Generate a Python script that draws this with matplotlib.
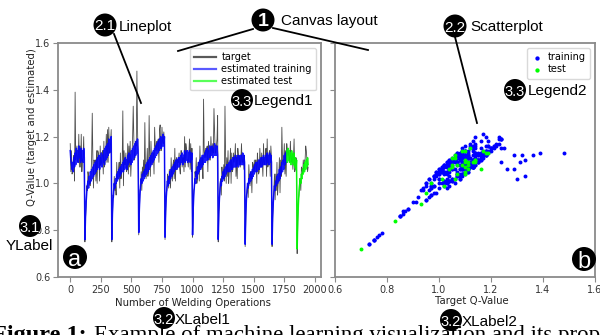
import numpy as np
import matplotlib.pyplot as plt
from matplotlib.patches import Circle
from matplotlib.lines import Line2D

# welding operation index (every 5th operation)
ops = np.arange(0, 1950, 5)

target = [
    1.17, 1.05, 1.14, 1.04, 1.05, 1.10, 1.12, 1.01, 1.39, 1.10, 1.12, 1.16, 1.09, 1.09, 1.21, 1.07, 1.16, 1.07, 1.21, 1.05,
    1.10, 1.11, 1.20, 1.05, 0.75, 0.85, 0.90, 0.99, 0.97, 1.05, 1.03, 0.99, 1.01, 0.99, 1.04, 1.11, 1.30, 1.11, 0.98, 1.10,
    1.09, 1.10, 1.01, 1.14, 1.00, 1.14, 1.13, 1.10, 1.01, 1.16, 1.08, 1.09, 1.13, 1.14, 1.04, 1.18, 1.07, 1.09, 1.13, 1.21,
    1.09, 1.23, 1.09, 1.24, 1.14, 1.13, 1.18, 1.23, 0.75, 0.86, 0.95, 0.94, 1.03, 0.97, 1.00, 0.95, 1.09, 1.02, 1.02, 1.06,
    1.09, 0.98, 1.13, 1.02, 1.04, 1.10, 1.31, 0.99, 1.14, 1.08, 1.08, 1.13, 1.05, 1.06, 1.17, 1.04, 1.16, 1.07, 1.18, 1.03,
    1.10, 1.11, 1.20, 1.33, 1.19, 1.10, 1.12, 1.18, 1.16, 1.48, 1.24, 1.10, 0.78, 0.88, 0.97, 0.98, 1.05, 0.97, 1.07, 1.03,
    1.10, 1.03, 1.26, 1.07, 1.02, 1.07, 1.15, 1.03, 1.05, 1.29, 1.11, 1.03, 1.18, 1.10, 1.08, 1.13, 1.13, 1.04, 1.24, 1.16,
    1.14, 1.18, 1.14, 1.18, 1.19, 1.09, 1.23, 1.25, 1.14, 1.14, 1.24, 1.18, 1.17, 1.22, 1.18, 0.76, 0.86, 0.96, 0.97, 1.04,
    1.02, 0.98, 1.06, 1.03, 0.98, 1.11, 1.04, 1.01, 1.08, 1.10, 1.02, 1.15, 1.01, 1.10, 1.11, 1.06, 1.10, 1.09, 1.13, 1.06,
    1.04, 1.14, 1.14, 1.07, 1.11, 1.11, 1.05, 1.20, 1.07, 1.17, 1.15, 1.10, 1.10, 1.07, 1.13, 1.19, 1.06, 1.17, 1.05, 1.15,
    0.77, 0.88, 0.97, 0.98, 1.05, 1.03, 1.11, 1.00, 1.02, 1.09, 1.09, 1.01, 1.16, 1.08, 1.06, 1.11, 1.11, 1.02, 1.36, 1.14,
    1.11, 1.15, 1.11, 1.15, 1.16, 1.05, 1.18, 1.14, 1.10, 1.10, 1.20, 1.14, 1.12, 1.17, 1.13, 1.32, 1.22, 1.13, 1.13, 1.16,
    1.19, 1.29, 0.75, 0.87, 0.92, 1.00, 1.02, 0.95, 1.07, 1.03, 1.02, 1.08, 1.01, 1.33, 1.12, 1.00, 1.11, 1.03, 1.14, 1.00,
    1.05, 1.07, 1.15, 1.00, 1.13, 1.05, 1.06, 1.13, 1.09, 1.11, 1.17, 1.03, 1.12, 1.02, 1.15, 1.12, 1.08, 1.12, 1.07, 1.10,
    1.17, 1.09, 1.09, 1.12, 1.06, 1.12, 0.73, 0.85, 0.95, 0.96, 1.00, 0.94, 1.08, 1.02, 0.99, 1.05, 1.04, 0.96, 1.09, 1.08,
    1.05, 1.10, 1.05, 1.10, 1.10, 1.00, 1.13, 1.09, 1.04, 1.05, 1.15, 1.09, 1.07, 1.13, 1.09, 1.03, 1.17, 1.09, 1.08, 1.12,
    1.15, 1.03, 1.19, 1.07, 1.08, 1.13, 1.14, 1.03, 1.16, 1.11, 0.73, 0.85, 0.91, 0.98, 1.04, 0.93, 1.04, 0.97, 1.09, 0.95,
    1.00, 1.03, 1.11, 0.96, 1.10, 1.03, 1.24, 1.11, 1.08, 1.10, 1.17, 1.04, 1.14, 1.03, 1.17, 1.14, 1.12, 1.14, 1.09, 1.11,
    1.18, 1.09, 1.10, 1.13, 1.06, 1.11, 1.19, 1.05, 1.06, 1.11, 1.10, 0.70, 0.83, 0.93, 0.95, 1.02, 1.01, 0.97, 1.07, 1.06,
    1.04, 1.10, 1.05, 1.10, 1.10, 1.16, 1.14, 1.10, 1.05, 1.07,
]

estimated = [
    1.14, 1.10, 1.08, 1.06, 1.09, 1.05, 1.11, 1.07, 1.13, 1.08, 1.15, 1.10, 1.14, 1.09, 1.16, 1.11, 1.13, 1.09, 1.15, 1.10,
    1.14, 1.09, 1.15, 1.11, 0.76, 0.86, 0.92, 0.96, 0.99, 1.01, 0.98, 1.03, 1.00, 1.05, 1.01, 1.06, 1.02, 1.07, 1.03, 1.08,
    1.04, 1.09, 1.05, 1.10, 1.06, 1.11, 1.07, 1.12, 1.06, 1.11, 1.08, 1.13, 1.07, 1.12, 1.09, 1.14, 1.08, 1.15, 1.10, 1.16,
    1.11, 1.17, 1.12, 1.19, 1.13, 1.18, 1.14, 1.20, 0.76, 0.87, 0.93, 0.97, 1.00, 0.98, 1.02, 1.00, 1.04, 1.01, 1.05, 1.02,
    1.06, 1.03, 1.07, 1.04, 1.08, 1.05, 1.09, 1.05, 1.10, 1.06, 1.11, 1.07, 1.10, 1.06, 1.12, 1.08, 1.13, 1.09, 1.12, 1.08,
    1.14, 1.09, 1.15, 1.10, 1.16, 1.11, 1.17, 1.12, 1.18, 1.13, 1.19, 1.14, 0.79, 0.89, 0.95, 0.99, 1.02, 1.00, 1.04, 1.01,
    1.05, 1.02, 1.06, 1.03, 1.08, 1.04, 1.09, 1.05, 1.10, 1.06, 1.11, 1.07, 1.12, 1.08, 1.13, 1.09, 1.14, 1.10, 1.15, 1.11,
    1.16, 1.12, 1.17, 1.13, 1.18, 1.14, 1.19, 1.15, 1.20, 1.15, 1.19, 1.16, 1.21, 1.16, 1.20, 0.77, 0.88, 0.94, 0.98, 1.01,
    0.99, 1.03, 1.00, 1.05, 1.02, 1.06, 1.03, 1.07, 1.04, 1.08, 1.05, 1.09, 1.06, 1.10, 1.06, 1.10, 1.07, 1.11, 1.07, 1.11,
    1.08, 1.12, 1.09, 1.13, 1.08, 1.12, 1.10, 1.14, 1.09, 1.13, 1.10, 1.14, 1.09, 1.13, 1.10, 1.14, 1.09, 1.13, 1.10, 1.13,
    0.78, 0.89, 0.95, 0.99, 1.02, 1.00, 1.05, 1.02, 1.07, 1.04, 1.09, 1.05, 1.10, 1.06, 1.11, 1.07, 1.12, 1.08, 1.12, 1.09,
    1.13, 1.09, 1.14, 1.10, 1.15, 1.10, 1.14, 1.11, 1.16, 1.11, 1.15, 1.12, 1.16, 1.11, 1.15, 1.12, 1.17, 1.12, 1.16, 1.12,
    1.16, 1.12, 0.76, 0.88, 0.94, 0.98, 1.01, 0.99, 1.03, 1.01, 1.05, 1.02, 1.06, 1.03, 1.07, 1.04, 1.08, 1.05, 1.08, 1.05,
    1.09, 1.05, 1.10, 1.06, 1.10, 1.06, 1.11, 1.07, 1.11, 1.07, 1.12, 1.07, 1.11, 1.08, 1.12, 1.07, 1.11, 1.08, 1.12, 1.08,
    1.12, 1.08, 1.13, 1.08, 1.12, 1.09, 0.74, 0.86, 0.93, 0.97, 1.00, 0.98, 1.02, 1.00, 1.04, 1.01, 1.05, 1.02, 1.06, 1.03,
    1.07, 1.04, 1.08, 1.05, 1.09, 1.05, 1.09, 1.06, 1.10, 1.06, 1.10, 1.07, 1.11, 1.07, 1.11, 1.08, 1.12, 1.08, 1.11, 1.08,
    1.12, 1.08, 1.13, 1.09, 1.12, 1.08, 1.13, 1.09, 1.12, 1.09, 0.74, 0.86, 0.92, 0.96, 0.99, 0.97, 1.01, 0.99, 1.03, 1.00,
    1.04, 1.01, 1.06, 1.02, 1.07, 1.04, 1.09, 1.05, 1.10, 1.06, 1.12, 1.08, 1.13, 1.09, 1.14, 1.09, 1.15, 1.10, 1.14, 1.09,
    1.13, 1.08, 1.14, 1.09, 1.12, 1.08, 1.13, 1.07, 1.11, 1.06, 1.10, 0.72, 0.84, 0.91, 0.96, 0.99, 1.02, 1.00, 1.04, 1.02,
    1.06, 1.04, 1.08, 1.05, 1.09, 1.06, 1.10, 1.07, 1.11, 1.08,
]

split_op = 1770   # first operation of the test set

x_ticks = [0, 250, 500, 750, 1000, 1250, 1500, 1750, 2000]
q_ticks = [0.6, 0.8, 1.0, 1.2, 1.4, 1.6]

target = np.array(target)
estimated = np.array(estimated)
n_train = int(np.searchsorted(ops, split_op))

W, H = 600, 335
fig = plt.figure(figsize=(W / 100, H / 100), dpi=100)


def fx(px):
    return px / W


def fy(py):
    return 1 - py / H


spine_col = '#8a8a8a'
sans = 'DejaVu Sans'

ax1 = fig.add_axes([fx(58), fy(277), fx(263), 234 / H])
ax2 = fig.add_axes([fx(335), fy(277), fx(260), 234 / H])

# line plot
ax1.plot(ops, target, color='black', lw=0.6, alpha=0.7, label='target')
ax1.plot(ops[:n_train + 1], estimated[:n_train + 1], color='#0000ff', lw=1.1,
         alpha=0.9, label='estimated training')
ax1.plot(ops[n_train:], estimated[n_train:], color='#00ff00', lw=1.1,
         alpha=0.9, label='estimated test')
ax1.set_xlim(-100, 2050)
ax1.set_ylim(0.6, 1.6)
ax1.set_xticks(x_ticks)
ax1.set_yticks(q_ticks)
leg1 = ax1.legend(loc='upper right', prop=dict(family=sans, size=7),
                  handlelength=2.2, borderpad=0.45, labelspacing=0.2,
                  handletextpad=0.6, edgecolor='#d0d0d0', fancybox=True)
for h in leg1.get_lines():
    h.set_linewidth(1.6)
    h.set_alpha(0.65)

# scatter plot
ax2.scatter(target[:n_train], estimated[:n_train], s=8, color='#0000ff',
            linewidths=0, label='training')
ax2.scatter(target[n_train:], estimated[n_train:], s=8, color='#00ff00',
            linewidths=0, label='test')
ax2.set_xlim(0.6, 1.6)
ax2.set_ylim(0.6, 1.6)
ax2.set_xticks(q_ticks)
ax2.set_yticks(q_ticks)
ax2.set_yticklabels([])
ax2.legend(loc='upper right', prop=dict(family=sans, size=7),
           markerscale=1.1, handlelength=1.2, borderpad=0.45,
           labelspacing=0.2, handletextpad=0.5, edgecolor='#d0d0d0')

for ax in (ax1, ax2):
    for s in ax.spines.values():
        s.set_color(spine_col)
        s.set_linewidth(1.3)
    ax.tick_params(color=spine_col, length=3.5, width=0.8, pad=2, labelcolor='#333333',
                   labelsize=7)

# axis labels
lab_font = dict(family=sans, size=7.3, color='#222222')
fig.text(fx(193), fy(303), 'Number of Welding Operations', ha='center', va='center', **lab_font)
fig.text(fx(472), fy(301), 'Target Q-Value', ha='center', va='center', **lab_font)
fig.text(fx(32), fy(127), 'Q-Value (target and estimated)', ha='center', va='center',
         rotation=90, **lab_font)

# annotation badges: text, centre x, centre y, radius (px), font size, weight
badges = [
    ('1', 263, 20, 11.5, 14, 'bold'),
    ('2.1', 105, 25, 11.5, 11, 'normal'),
    ('2.2', 455, 26, 11.5, 11, 'normal'),
    ('3.3', 242, 100, 11, 10.5, 'normal'),
    ('3.3', 515, 90, 11, 10.5, 'normal'),
    ('3.1', 30, 226, 11, 10.5, 'normal'),
    ('3.2', 164, 318, 11, 10.5, 'normal'),
    ('3.2', 451, 320, 11, 10.5, 'normal'),
    ('a', 75, 257, 12, 17, 'normal'),
    ('b', 584, 259, 12, 17, 'normal'),
]
for txt, cx, cy, r, fs, fw in badges:
    fig.add_artist(Circle((cx / 100, (H - cy) / 100), r / 100, transform=fig.dpi_scale_trans,
                          fc='black', ec='none', zorder=10))
    fig.text(fx(cx), fy(cy), txt, color='white', ha='center', va='center_baseline',
             fontsize=fs, fontweight=fw, family='Liberation Sans', zorder=11)

notes = [
    ('Canvas layout', 281, 20),
    ('Lineplot', 119, 25),
    ('Scatterplot', 470, 26),
    ('Legend1', 254, 100),
    ('Legend2', 528, 90),
    ('XLabel1', 175, 318),
    ('XLabel2', 462, 320),
]
for txt, px, py in notes:
    fig.text(fx(px), fy(py), txt, ha='left', va='center_baseline', fontsize=11,
             family='Liberation Sans', color='black', zorder=11)
fig.text(fx(29), fy(244), 'YLabel', ha='center', va='center_baseline', fontsize=11,
         family='Liberation Sans', color='black', zorder=11)

pointers = [
    ((253, 29), (178, 51)),
    ((273, 28), (368, 50)),
    ((114, 34), (141, 103)),
    ((455, 37), (477, 123)),
]
for (x0, y0), (x1, y1) in pointers:
    fig.add_artist(Line2D([fx(x0), fx(x1)], [fy(y0), fy(y1)], transform=fig.transFigure,
                          color='black', lw=1.3, zorder=9))

# caption, cut off by the bottom edge of the image
cap_y = fy(341)
fig.text(fx(87), cap_y, 'Figure 1:', fontsize=17.5, fontweight='bold',
         family='Liberation Serif', va='baseline', ha='right')
fig.text(fx(94), cap_y, 'Example of machine learning visualization and its properties',
         fontsize=16.5, family='Liberation Serif', va='baseline')

fig.savefig('out.png', dpi=100)
